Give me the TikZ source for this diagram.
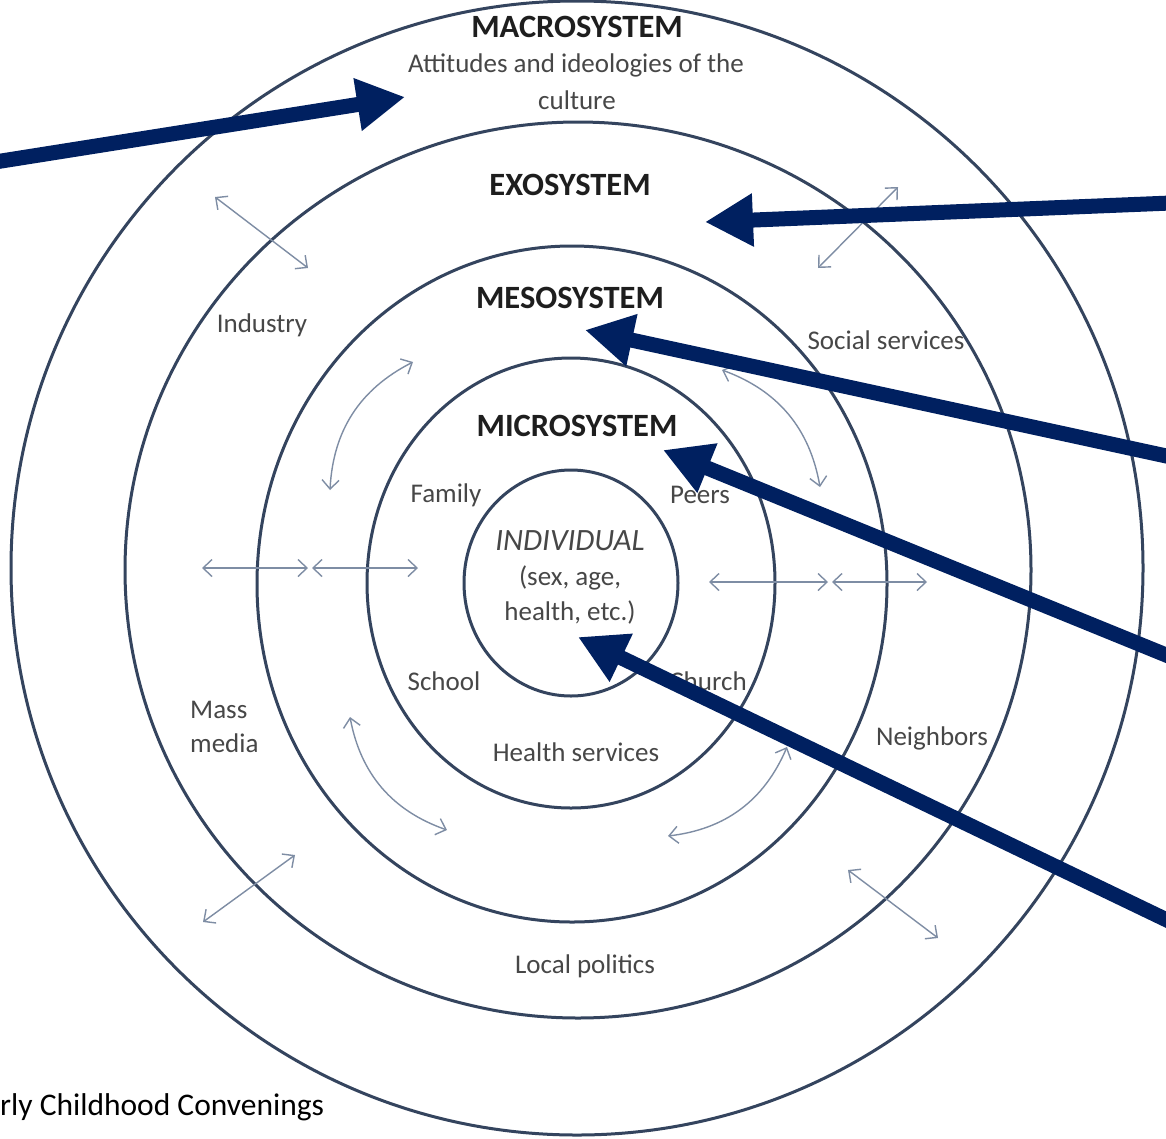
\documentclass[tikz,border=0pt]{standalone}
\usepackage{fontspec}
\setmainfont{Carlito}
\usetikzlibrary{arrows.meta}
\definecolor{ring}{HTML}{34445E}
\definecolor{navy}{HTML}{002060}
\definecolor{thin}{HTML}{7E8DA4}
\definecolor{lbl}{HTML}{474747}
\definecolor{ttl}{HTML}{1E1E1E}
\tikzset{
  ringline/.style={draw=ring, line width=3pt},
  title/.style={text=ttl, font=\fontsize{32.5}{36}\selectfont\bfseries, inner sep=0pt},
  lab/.style={text=lbl, font=\fontsize{27}{31}\selectfont, inner sep=0pt},
  big/.style={draw=navy, line width=15pt, -{Triangle[length=48pt,width=50pt]}},
  twoway/.style={draw=thin, line width=1.4pt, {Straight Barb[length=9pt,width=17pt,line width=1.4pt]}-{Straight Barb[length=9pt,width=17pt,line width=1.4pt]}}
}
\begin{document}
\begin{tikzpicture}[x=1pt,y=-1pt]
\useasboundingbox[fill=white] (0,0) rectangle (1166,1138);
% rings
\draw[ringline] (577,568) ellipse [x radius=566pt, y radius=567pt];
\draw[ringline] (578,570) ellipse [x radius=453pt, y radius=448pt];
\draw[ringline] (572,584) ellipse [x radius=315pt, y radius=338pt];
\draw[ringline] (571,583) ellipse [x radius=204pt, y radius=225pt];
\draw[ringline] (571,583) ellipse [x radius=107pt, y radius=113pt];

% titles
\node[title] (macro) at (577,27) {MACROSYSTEM};
\node[lab] (att) at (576,65) {Attitudes and ideologies of the};
\node[lab] (cult) at (577,100) {culture};
\node[title] (exo) at (570,185) {EXOSYSTEM};
\node[title] (meso) at (570,298) {MESOSYSTEM};
\node[title] (micro) at (577,426) {MICROSYSTEM};
\node[lab, font=\fontsize{31}{35}\selectfont\itshape] (indiv) at (570,541) {INDIVIDUAL};
\node[lab] (sex) at (570,578) {(sex, age,};
\node[lab] (health) at (570,612) {health, etc.)};

% labels
\node[lab] (family) at (446,495) {Family};
\node[lab] (peers) at (700,495) {Peers};
\node[lab] (school) at (444,681) {School};
\node[lab] (church) at (708,681) {Church};
\node[lab] (hserv) at (576,752) {Health services};
\node[lab] (industry) at (262,325) {Industry};
\node[lab] (social) at (886,340) {Social services};
\node[lab, anchor=west] (mass) at (190,710) {Mass};
\node[lab, anchor=west] (media) at (190,743) {media};
\node[lab] (neigh) at (932,738) {Neighbors};
\node[lab] (local) at (585,966) {Local politics};
\node[anchor=west, inner sep=0pt, text=black, font=\fontsize{31.5}{35}\selectfont] (foot) at (0,1107) {rly Childhood Convenings};

% thin two-way arrows
\coordinate (a1) at (215,197); \coordinate (a2) at (308,268);
\coordinate (b1) at (898,187); \coordinate (b2) at (818,268);
\coordinate (c1) at (413,362); \coordinate (c2) at (330,490);
\coordinate (d1) at (722,370); \coordinate (d2) at (820,487);
\coordinate (e1) at (350,717); \coordinate (e2) at (447,830);
\coordinate (f1) at (787,747); \coordinate (f2) at (668,836);
\coordinate (g1) at (295,855); \coordinate (g2) at (203,922);
\coordinate (h1) at (848,870); \coordinate (h2) at (938,938);
\coordinate (i1) at (202,568); \coordinate (i2) at (308,568);
\coordinate (i3) at (312,568); \coordinate (i4) at (418,568);
\coordinate (j1) at (709,582); \coordinate (j2) at (828,582);
\coordinate (j3) at (832,582); \coordinate (j4) at (927,582);
\draw[twoway] (a1) -- (a2);
\draw[twoway] (b1) -- (b2);
\draw[twoway] (c1) to[bend right=30] (c2);
\draw[twoway] (d1) to[bend left=30] (d2);
\draw[twoway] (e1) to[bend right=30] (e2);
\draw[twoway] (f1) to[bend left=30] (f2);
\draw[twoway] (g1) -- (g2);
\draw[twoway] (h1) -- (h2);
\draw[twoway] (i1) -- (i2);
\draw[twoway] (i3) -- (i4);
\draw[twoway] (j1) -- (j2);
\draw[twoway] (j3) -- (j4);

% big navy arrows
\coordinate (s1) at (-5,162); \coordinate (t1) at (405,97);
\coordinate (s2) at (1171,203); \coordinate (t2) at (705,222);
\coordinate (s3) at (1171,457); \coordinate (t3) at (585,330);
\coordinate (s4) at (1171,657); \coordinate (t4) at (663,450);
\coordinate (s5) at (1171,922); \coordinate (t5) at (578,637);
\draw[big] (s1) -- (t1);
\draw[big] (s2) -- (t2);
\draw[big] (s3) -- (t3);
\draw[big] (s4) -- (t4);
\draw[big] (s5) -- (t5);
\end{tikzpicture}
\end{document}
